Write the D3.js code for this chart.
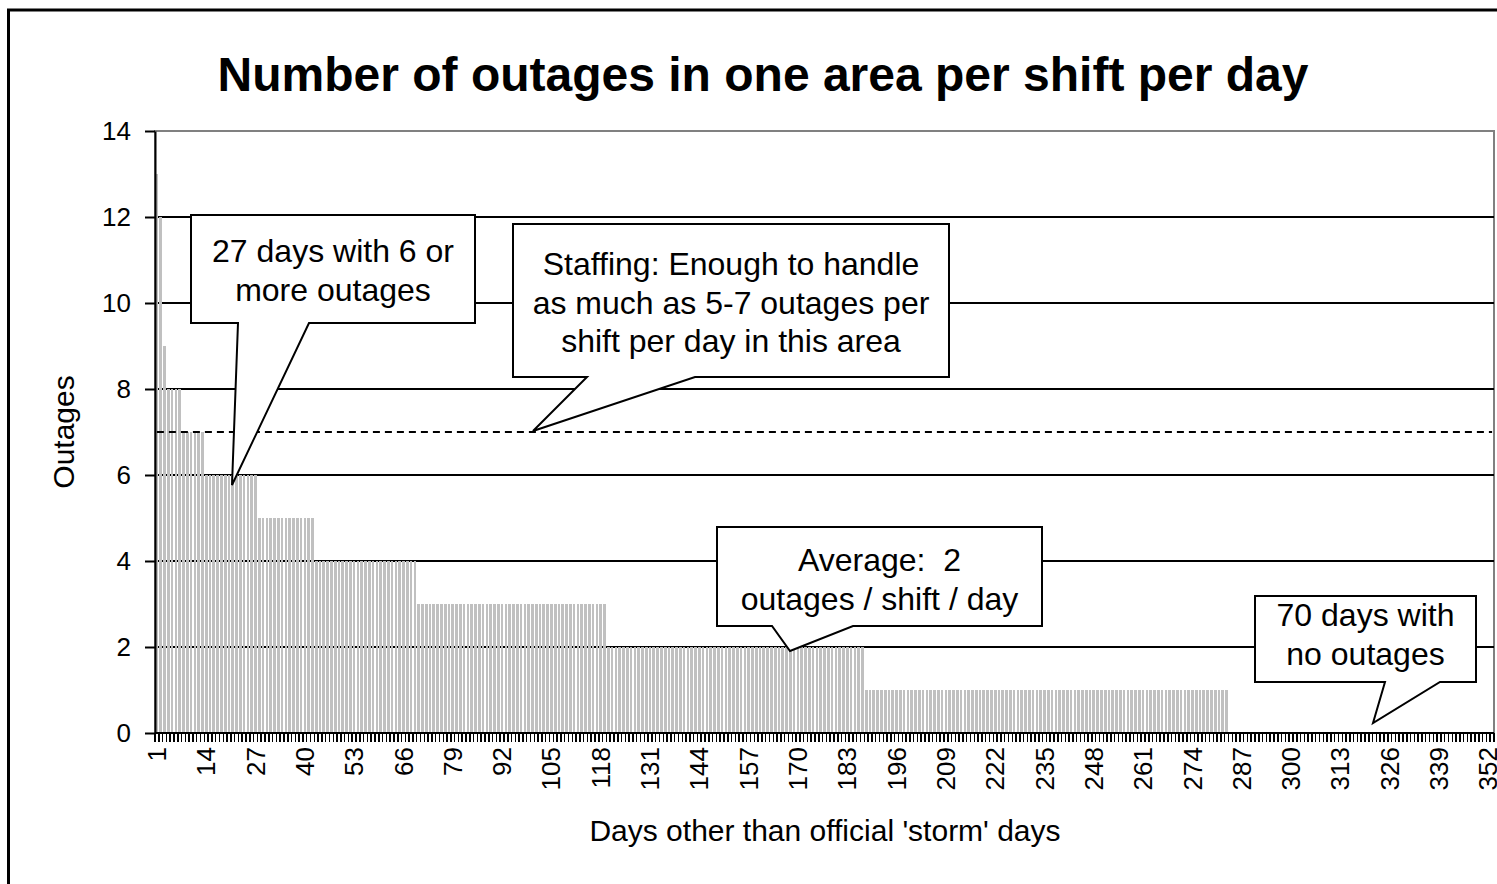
<!DOCTYPE html>
<html>
<head>
<meta charset="utf-8">
<script src="https://cdn.jsdelivr.net/npm/d3@7"></script>
<style>
  body { margin: 0; background: #fff; }
  svg text { font-family: Arial, 'Liberation Sans', sans-serif; fill: #000; white-space: pre; }
</style>
</head>
<body>
<svg id="chart" width="1497" height="884"></svg>
<script>
// outages per shift per day, sorted high to low, as runs of equal values
var outageLevels = [13, 12, 9, 8, 7, 6, 5, 4, 3, 2, 1, 0];
var dayCounts    = [1, 1, 1, 4, 6, 14, 15, 27, 50, 68, 96, 70];

var xTickDays = [1, 14, 27, 40, 53, 66, 79, 92, 105, 118, 131, 144, 157, 170, 183,
  196, 209, 222, 235, 248, 261, 274, 287, 300, 313, 326, 339, 352];
var yTicks = [0, 2, 4, 6, 8, 10, 12, 14];
var staffingLevel = 7;

var titleText = 'Number of outages in one area per shift per day';
var xTitle = "Days other than official 'storm' days";
var yTitle = 'Outages';

var noteLines = [
  ['27 days with 6 or', 'more outages'],
  ['Staffing: Enough to handle', 'as much as 5-7 outages per', 'shift per day in this area'],
  ['Average:  2', 'outages / shift / day'],
  ['70 days with', 'no outages']
];

var days = [];
outageLevels.forEach(function(v, i) {
  for (var k = 0; k < dayCounts[i]; k++) days.push({ day: days.length + 1, value: v });
});

var svg = d3.select('#chart');
var pLeft = 155, pRight = 1494, pTop = 131, pBottom = 733;

var x = d3.scaleBand()
  .domain(days.map(function(d) { return d.day; }))
  .range([pLeft, pRight])
  .paddingInner(0.3)
  .paddingOuter(0.15);

var y = d3.scaleLinear().domain([0, 14]).range([pBottom, pTop]);

// outer frame
svg.append('rect')
  .attr('x', 8.5).attr('y', 10).attr('width', 1500).attr('height', 900)
  .attr('fill', 'none').attr('stroke', '#000').attr('stroke-width', 3);

svg.append('text')
  .attr('x', 763).attr('y', 91)
  .attr('text-anchor', 'middle')
  .style('font-size', '48px').style('font-weight', 'bold')
  .text(titleText);

// plot border
svg.append('rect')
  .attr('x', pLeft).attr('y', pTop).attr('width', pRight - pLeft).attr('height', pBottom - pTop)
  .attr('fill', 'none').attr('stroke', '#808080').attr('stroke-width', 2);

// gridlines
svg.append('g').selectAll('line')
  .data(yTicks.filter(function(t) { return t > 0 && t < 14; }))
  .enter().append('line')
  .attr('x1', pLeft).attr('x2', pRight)
  .attr('y1', function(d) { return y(d); }).attr('y2', function(d) { return y(d); })
  .attr('stroke', '#000').attr('stroke-width', 2);

// bars
svg.append('g')
  .attr('shape-rendering', 'crispEdges')
  .selectAll('rect')
  .data(days.filter(function(d) { return d.value > 0; }))
  .enter().append('rect')
  .attr('x', function(d) { return x(d.day); })
  .attr('width', x.bandwidth())
  .attr('y', function(d) { return y(d.value); })
  .attr('height', function(d) { return y(0) - y(d.value); })
  .attr('fill', '#c0c0c0');

// staffing line
var first = days[0].day, last = days[days.length - 1].day;
svg.append('line')
  .attr('x1', x(first) + x.bandwidth() / 2)
  .attr('x2', x(last) + x.bandwidth() / 2)
  .attr('y1', y(staffingLevel)).attr('y2', y(staffingLevel))
  .attr('stroke', '#000').attr('stroke-width', 2)
  .attr('stroke-dasharray', '7,5');

// y axis
var yAxis = svg.append('g')
  .attr('transform', 'translate(' + pLeft + ',0)')
  .call(d3.axisLeft(y).tickValues(yTicks).tickSize(10).tickSizeOuter(0).tickPadding(14));
yAxis.select('.domain').attr('stroke', '#000').attr('stroke-width', 2);
yAxis.selectAll('.tick line').attr('stroke', '#000').attr('stroke-width', 2);
yAxis.selectAll('.tick text').style('font-size', '26px').attr('font-family', null);

// x axis: ticks between every category
var gx = svg.append('g');
gx.append('line')
  .attr('x1', pLeft).attr('x2', pRight)
  .attr('y1', pBottom).attr('y2', pBottom)
  .attr('stroke', '#000').attr('stroke-width', 2);
gx.append('g')
  .attr('shape-rendering', 'crispEdges')
  .selectAll('line')
  .data(d3.range(days.length + 1))
  .enter().append('line')
  .attr('x1', function(i) { return x.range()[0] + i * x.step(); })
  .attr('x2', function(i) { return x.range()[0] + i * x.step(); })
  .attr('y1', pBottom).attr('y2', pBottom + 9)
  .attr('stroke', '#000').attr('stroke-width', 1.5);
gx.selectAll('text')
  .data(xTickDays)
  .enter().append('text')
  .attr('transform', function(d) {
    return 'translate(' + (x(d) + x.bandwidth() / 2) + ',' + (pBottom + 14) + ')rotate(-90)';
  })
  .attr('text-anchor', 'end')
  .attr('dy', '0.35em')
  .style('font-size', '26px')
  .text(function(d) { return d; });

svg.append('text')
  .attr('transform', 'translate(74,432)rotate(-90)')
  .attr('text-anchor', 'middle')
  .style('font-size', '30px')
  .text(yTitle);

svg.append('text')
  .attr('x', 825).attr('y', 841)
  .attr('text-anchor', 'middle')
  .style('font-size', '30px')
  .text(xTitle);

// callouts: box, pointer base on bottom edge, pointer tip
var boxes = [
  { l: 191, t: 215, r: 475, b: 323, p1: 238, p2: 309, tx: 232, ty: 485, ty0: 262 },
  { l: 513, t: 224, r: 949, b: 377, p1: 587, p2: 695, tx: 533, ty: 431, ty0: 275 },
  { l: 717, t: 527, r: 1042, b: 626, p1: 772, p2: 853, tx: 790, ty: 651, ty0: 571 },
  { l: 1255, t: 596, r: 1476, b: 682, p1: 1385, p2: 1440, tx: 1373, ty: 723, ty0: 626 }
];

var notes = svg.append('g').selectAll('g')
  .data(boxes)
  .enter().append('g');

notes.append('path')
  .attr('d', function(d) {
    return 'M' + d.l + ',' + d.t + 'H' + d.r + 'V' + d.b + 'H' + d.p2 +
      'L' + d.tx + ',' + d.ty + 'L' + d.p1 + ',' + d.b + 'H' + d.l + 'Z';
  })
  .attr('fill', '#fff').attr('stroke', '#000').attr('stroke-width', 2);

notes.append('text')
  .attr('text-anchor', 'middle')
  .style('font-size', '32px')
  .selectAll('tspan')
  .data(function(d, i) {
    return noteLines[i].map(function(s) { return { s: s, b: d }; });
  })
  .enter().append('tspan')
  .attr('x', function(d) { return (d.b.l + d.b.r) / 2; })
  .attr('y', function(d, j) { return d.b.ty0 + j * 38.5; })
  .text(function(d) { return d.s; });
</script>
</body>
</html>
